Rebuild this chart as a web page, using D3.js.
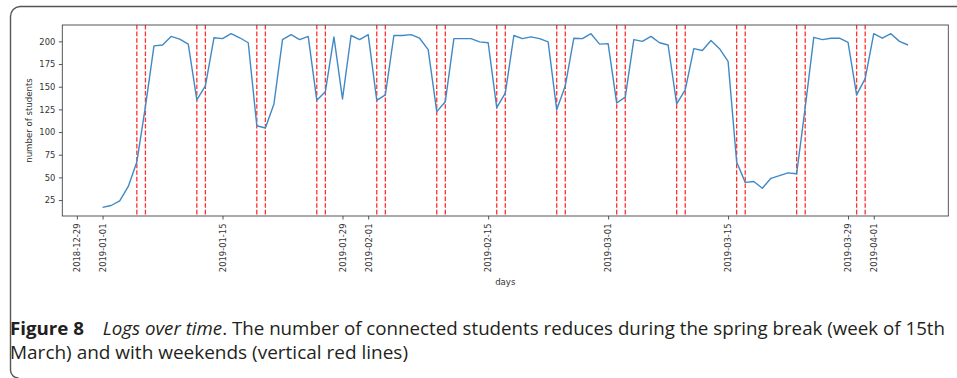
<!DOCTYPE html>
<html>
<head>
<meta charset="utf-8">
<script src="https://cdn.jsdelivr.net/npm/d3@7"></script>
<style>
  html, body { margin: 0; padding: 0; background: #fff; }
  svg { display: block; }
</style>
</head>
<body>
<svg id="chart" width="957" height="378"></svg>
<script>
// ---------- data ----------
const firstDay = "2019-01-01";
const lastDay = "2019-04-05";
const students = [
  17, 19, 24, 40, 67, 128, 195, 196, 205.5, 202.5,
  197, 135.5, 151, 204, 203, 208.5, 204, 198.5, 107, 104.5,
  131, 202, 207.5, 202, 205.5, 135, 144.5, 205, 136.5, 206.5,
  202, 207.5, 135, 141, 206.5, 206.5, 207.5, 203.5, 191, 122.5,
  133.5, 203, 203, 203, 199.5, 198.5, 127, 143, 206.5, 203,
  205, 203, 199.5, 124.5, 151, 203.5, 203, 208.5, 197, 197.5,
  132, 138.5, 202, 200, 205.5, 198.5, 196, 131, 146.5, 192,
  190, 201, 192, 178, 67, 44.5, 45.5, 38, 49, 52,
  55, 54, 127, 204.5, 202, 203.5, 203.5, 199, 141, 159,
  208.5, 203.5, 208.5, 200, 196
];
const weekendDays = [
  "2019-01-05", "2019-01-06", "2019-01-12", "2019-01-13", "2019-01-19", "2019-01-20",
  "2019-01-26", "2019-01-27", "2019-02-02", "2019-02-03", "2019-02-09", "2019-02-10",
  "2019-02-16", "2019-02-17", "2019-02-23", "2019-02-24", "2019-03-02", "2019-03-03",
  "2019-03-09", "2019-03-10", "2019-03-16", "2019-03-17", "2019-03-23", "2019-03-24",
  "2019-03-30", "2019-03-31"
];
const xTickLabels = [
  "2018-12-29", "2019-01-01", "2019-01-15", "2019-01-29", "2019-02-01",
  "2019-02-15", "2019-03-01", "2019-03-15", "2019-03-29", "2019-04-01"
];
const yTickLabels = [25, 50, 75, 100, 125, 150, 175, 200];
const xTitle = "days";
const yTitle = "number of students";

(function () {
// ---------- setup ----------
const parse = d3.utcParse("%Y-%m-%d");
const fmt = d3.utcFormat("%Y-%m-%d");
const days = d3.utcDays(parse(firstDay), d3.utcDay.offset(parse(lastDay), 1));
const series = days.map((d, i) => ({ date: d, value: students[i] }));

const svg = d3.select("#chart");
const pL = 62.3, pR = 948.3, pT = 25, pB = 216;
const FONT = "'DejaVu Sans', sans-serif";
const TXT = "#333";

// matplotlib-like 5% margins
const xExt = d3.extent(days);
const xPad = (xExt[1] - xExt[0]) * 0.05;
const x = d3.scaleUtc()
  .domain([new Date(+xExt[0] - xPad), new Date(+xExt[1] + xPad)])
  .range([pL, pR]);
const yExt = d3.extent(students);
const yPad = (yExt[1] - yExt[0]) * 0.05;
const y = d3.scaleLinear()
  .domain([yExt[0] - yPad, yExt[1] + yPad])
  .range([pB, pT]);

// outer card frame
svg.append("path")
  .attr("d", "M957,6.5 H20 A10,10 0 0 0 10.5,16.5 V370 A8,8 0 0 0 18.5,378")
  .attr("fill", "none").attr("stroke", "#555").attr("stroke-width", 1.4);

// weekend lines
svg.append("g").selectAll("line").data(weekendDays).join("line")
  .attr("x1", d => x(parse(d))).attr("x2", d => x(parse(d)))
  .attr("y1", pT).attr("y2", pB)
  .attr("stroke", "#ff3030").attr("stroke-width", 1.3)
  .attr("stroke-dasharray", "4.6,2");

// series line
svg.append("path").datum(series)
  .attr("d", d3.line().x(d => x(d.date)).y(d => y(d.value)))
  .attr("fill", "none").attr("stroke", "#4189c4").attr("stroke-width", 1.4)
  .attr("stroke-linejoin", "round");

// axes frame
svg.append("rect")
  .attr("x", pL).attr("y", pT).attr("width", pR - pL).attr("height", pB - pT)
  .attr("fill", "none").attr("stroke", "#444").attr("stroke-width", 0.9);

// x axis
const xAxis = svg.append("g").attr("transform", `translate(0,${pB})`)
  .call(d3.axisBottom(x).tickValues(xTickLabels.map(parse)).tickFormat(fmt)
    .tickSize(3.5).tickSizeOuter(0));
xAxis.select(".domain").remove();
xAxis.selectAll(".tick line").attr("stroke", "#444").attr("stroke-width", 0.9);
xAxis.selectAll(".tick text")
  .attr("font-family", FONT).attr("font-size", 8.4).attr("fill", TXT)
  .attr("text-anchor", "end").attr("dy", null).attr("y", null)
  .attr("transform", "translate(2.8,7.5) rotate(-90)");

// y axis
const yAxis = svg.append("g").attr("transform", `translate(${pL},0)`)
  .call(d3.axisLeft(y).tickValues(yTickLabels).tickSize(3.5).tickSizeOuter(0));
yAxis.select(".domain").remove();
yAxis.selectAll(".tick line").attr("stroke", "#444").attr("stroke-width", 0.9);
yAxis.selectAll(".tick text")
  .attr("font-family", FONT).attr("font-size", 8.4).attr("fill", TXT)
  .attr("x", -7);

// axis titles
svg.append("text").text(xTitle)
  .attr("x", (pL + pR) / 2).attr("y", 285)
  .attr("text-anchor", "middle").attr("font-family", FONT).attr("font-size", 8.6).attr("fill", TXT);
svg.append("text").text(yTitle)
  .attr("transform", `translate(32,${(pT + pB) / 2}) rotate(-90)`)
  .attr("text-anchor", "middle").attr("font-family", FONT).attr("font-size", 8.6).attr("fill", TXT);

// caption
const CAP = "'Liberation Sans Narrow', 'Open Sans', sans-serif";
const cap1 = svg.append("text").attr("x", 10).attr("y", 335)
  .attr("font-family", CAP).attr("font-size", 18.5).attr("fill", "#231f20")
  .attr("textLength", 935).attr("lengthAdjust", "spacingAndGlyphs");
cap1.append("tspan").attr("font-weight", "bold").text("Figure 8");
cap1.append("tspan").attr("font-style", "italic").text("\u2003Logs over time");
cap1.append("tspan").text(". The number of connected students reduces during the spring break (week of 15th");
svg.append("text").attr("x", 10).attr("y", 359)
  .attr("font-family", CAP).attr("font-size", 18.5).attr("fill", "#231f20")
  .attr("textLength", 398).attr("lengthAdjust", "spacingAndGlyphs")
  .text("March) and with weekends (vertical red lines)");
})();
</script>
</body>
</html>
